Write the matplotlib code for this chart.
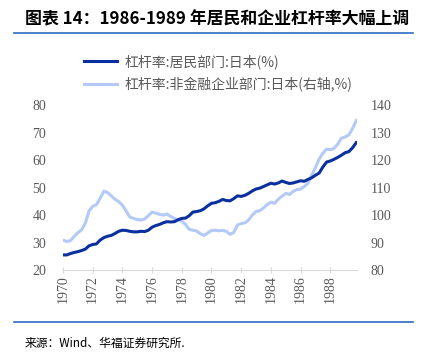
import matplotlib
matplotlib.use("Agg")
import matplotlib.pyplot as plt

plt.rcParams['font.family'] = ['Noto Sans CJK SC', 'DejaVu Sans']

# quarterly data, 1970Q1 - 1989Q4
years = [1970 + q / 4 for q in range(80)]
household = [25.5, 25.5, 26.0, 26.4, 26.7, 27.1, 27.6, 28.8, 29.3, 29.5,
             30.9, 31.8, 32.3, 32.6, 33.3, 34.1, 34.5, 34.4, 34.1, 33.9,
             33.9, 34.1, 34.0, 34.5, 35.6, 36.2, 36.6, 37.2, 37.6, 37.5,
             37.6, 38.3, 38.8, 38.9, 39.8, 41.1, 41.3, 41.6, 42.3, 43.4,
             44.3, 44.5, 45.0, 45.7, 45.3, 45.2, 46.0, 47.0, 46.8, 47.2,
             47.9, 48.8, 49.5, 49.8, 50.4, 51.0, 51.6, 51.3, 51.7, 52.4,
             51.9, 51.5, 51.7, 52.1, 52.5, 52.3, 53.0, 53.6, 54.5, 55.3,
             57.5, 59.3, 59.7, 60.3, 61.0, 61.8, 62.7, 63.1, 64.5, 66.4]
corporate = [90.9, 90.4, 90.7, 92.2, 93.6, 94.6, 97.0, 101.5, 103.2, 103.8,
             106.1, 108.7, 108.2, 107.0, 105.8, 104.9, 103.6, 101.5, 99.3, 98.8,
             98.4, 98.2, 98.6, 99.8, 101.1, 100.7, 100.3, 100.0, 100.4, 99.5,
             98.8, 98.3, 97.8, 96.6, 94.8, 94.5, 94.2, 93.2, 92.6, 93.5,
             94.4, 94.5, 94.3, 94.4, 94.1, 93.0, 93.7, 96.4, 96.9, 97.2,
             98.2, 100.0, 101.3, 101.6, 102.6, 103.8, 104.7, 104.3, 105.8, 106.9,
             107.9, 107.5, 108.6, 109.3, 109.5, 110.4, 111.6, 114.5, 117.3, 120.4,
             122.5, 124.0, 123.8, 124.3, 125.8, 128.0, 128.4, 129.2, 131.5, 134.4]
xticks = list(range(1970, 1989, 2))

dark = '#0a2f9e'
light = '#b3c9f7'
gray = '#595959'

fig = plt.figure(figsize=(4.24, 3.53), dpi=100)

fig.text(0.059, 0.945, '图表 14：1986-1989 年居民和企业杠杆率大幅上调',
         fontsize=12.2, fontweight='bold', va='center', ha='left')
fig.add_artist(plt.Line2D([0.033, 0.974], [0.906, 0.906], color='#2e6bc4', lw=1.2))
fig.add_artist(plt.Line2D([0.033, 0.974], [0.088, 0.088], color='#2e6bc4', lw=1.2))
fig.text(0.059, 0.028, '来源：Wind、华福证券研究所.', fontsize=8.5, va='center', ha='left')

ax = fig.add_axes([0.1486, 0.235, 0.6934, 0.467])
ax2 = ax.twinx()

l1, = ax.plot(years, household, color=dark, lw=2.2, label='杠杆率:居民部门:日本(%)')
l2, = ax2.plot(years, corporate, color=light, lw=2.2, label='杠杆率:非金融企业部门:日本(右轴,%)')
ax.set_zorder(ax2.get_zorder() + 1)
ax.patch.set_visible(False)

ax.set_xlim(1970, 1989.8)
ax.set_ylim(20, 80)
ax2.set_ylim(80, 140)
ax.set_yticks(range(20, 81, 10))
ax2.set_yticks(range(80, 141, 10))
ax.set_xticks(xticks)
ax.set_xticklabels([str(y) for y in xticks], rotation=90)

for a in (ax, ax2):
    for s in a.spines.values():
        s.set_visible(False)
ax.spines['bottom'].set_visible(True)
ax.spines['bottom'].set_color('#d9d9d9')
ax.tick_params(axis='x', colors='#d9d9d9', length=4, direction='inout', labelcolor=gray, pad=2)
ax.tick_params(axis='y', length=0, labelcolor=gray, pad=12)
ax2.tick_params(axis='y', length=0, labelcolor=gray, pad=10)
for lab in ax.get_xticklabels() + ax.get_yticklabels() + ax2.get_yticklabels():
    lab.set_fontfamily('Liberation Serif')
    lab.set_fontsize(10)

fig.legend(handles=[l1, l2], loc='upper left', bbox_to_anchor=(0.185, 0.862),
           frameon=False, fontsize=10, labelcolor=gray, handlelength=2.4,
           handletextpad=0.5, labelspacing=0.55, borderaxespad=0)

fig.savefig('out.png', dpi=100)
